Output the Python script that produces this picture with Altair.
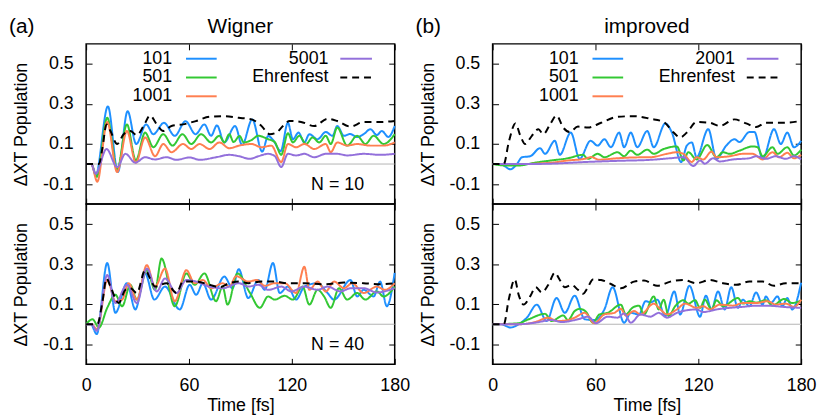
import altair as alt
import pandas as pd

# ---------------- data ----------------
# (a) Wigner, N = 10
A10_101_T = [0, 3, 5.6, 12.7, 18.5, 24.2, 29.2, 35, 39.2, 45.4, 51.7, 58, 63.8, 69, 72.9, 76.3, 80.6, 86.9, 91, 96.9, 102.7, 106.2, 109, 113.5, 117.7, 120.6, 123.9, 127.3, 130.2, 135, 139.8, 143.7, 146.5, 150.4, 154, 158, 162, 165.8, 169.6, 172.5, 176.3, 180]
A10_101_V = [0, 0, -0.055, 0.288, -0.04, 0.264, 0.1, 0.198, 0.149, 0.206, 0.141, 0.214, 0.149, 0.198, 0.141, 0.193, 0.108, 0.19, 0.095, 0.223, 0.062, 0.14, 0.12, 0.065, 0.206, 0.124, 0.157, 0.108, 0.149, 0.124, 0.16, 0.141, 0.19, 0.141, 0.15, 0.135, 0.15, 0.174, 0.145, 0.165, 0.135, 0.19]
A10_501_T = [0, 3, 6.2, 12.3, 18.1, 23.8, 29, 34.4, 39.2, 45, 50.4, 56.2, 61.3, 67.1, 72.9, 77.7, 80.6, 83.5, 86, 89.5, 92, 96.5, 100.4, 106.2, 110, 113.8, 117.7, 120.6, 124.4, 128.3, 132.1, 136, 139.8, 142.7, 146.5, 152.3, 158.1, 162.9, 167.7, 173.5, 180]
A10_501_V = [0, 0, -0.064, 0.231, -0.026, 0.198, 0.018, 0.157, 0.084, 0.149, 0.092, 0.149, 0.1, 0.149, 0.108, 0.141, 0.108, 0.149, 0.11, 0.14, 0.108, 0.12, 0.141, 0.124, 0.11, 0.046, 0.154, 0.108, 0.141, 0.1, 0.133, 0.108, 0.141, 0.1, 0.182, 0.092, 0.141, 0.1, 0.141, 0.1, 0.149]
A10_1001_T = [0, 3, 6.5, 12.3, 18.1, 23.8, 29, 34.4, 40.2, 45, 49.8, 56.5, 61.3, 66.2, 72, 77.7, 83.5, 89.2, 96.5, 102.3, 108, 113.8, 117.7, 122.5, 127.3, 133.1, 139.8, 142.7, 146.5, 152.3, 158.1, 165.8, 173.5, 180]
A10_1001_V = [0, 0, -0.088, 0.21, -0.04, 0.165, 0.007, 0.133, 0.039, 0.1, 0.059, 0.1, 0.075, 0.1, 0.075, 0.108, 0.079, 0.092, 0.1, 0.084, 0.092, 0.01, 0.1, 0.084, 0.1, 0.075, 0.1, 0.059, 0.108, 0.092, 0.1, 0.092, 0.092, 0.108]
A10_5001_T = [0, 3, 5.6, 11.9, 18.1, 22.9, 28.7, 34.4, 40.2, 46.9, 52.7, 60.4, 66.2, 75.8, 83.5, 89.2, 95.6, 100.4, 106.2, 110, 113.8, 117.7, 122.5, 127.3, 133.1, 139.8, 146.5, 152.3, 162, 171.5, 180]
A10_5001_V = [0, 0, -0.048, 0.075, -0.015, 0.051, 0.007, 0.034, 0.023, 0.034, 0.021, 0.033, 0.021, 0.034, 0.046, 0.039, 0.026, 0.039, 0.051, 0.04, -0.015, 0.051, 0.043, 0.051, 0.034, 0.051, 0.051, 0.043, 0.051, 0.046, 0.051]
A10_EHR_T = [0, 7.5, 9.4, 11.9, 14.2, 18.1, 21.9, 25.8, 29.6, 33.5, 37.3, 41.2, 45, 49.8, 56.5, 64.2, 71.9, 79.6, 89, 96.5, 102.3, 107.1, 111, 114.8, 118.7, 125.4, 133.1, 140.8, 146.5, 154.2, 161.9, 171.5, 180]
A10_EHR_V = [0, 0, 0.075, 0.198, 0.165, 0.1, 0.149, 0.165, 0.144, 0.19, 0.242, 0.198, 0.165, 0.19, 0.198, 0.215, 0.236, 0.239, 0.231, 0.223, 0.19, 0.149, 0.157, 0.19, 0.215, 0.21, 0.19, 0.226, 0.215, 0.187, 0.21, 0.21, 0.215]

# (a) Wigner, N = 40
A40_101_T = [0, 2.7, 6.2, 12.3, 17.1, 23.8, 28.7, 34.4, 39.8, 46, 54.6, 60.4, 64.2, 68.1, 72.9, 80.6, 85.4, 89, 94.6, 100.4, 104.2, 109, 112.9, 117.7, 122.5, 127.3, 135, 140.8, 144.6, 154.2, 158.1, 161.9, 167.7, 171.5, 175.4, 180]
A40_101_V = [0, 0, -0.049, 0.306, 0.057, 0.205, 0.074, 0.254, 0.123, 0.188, 0.074, 0.197, 0.147, 0.205, 0.123, 0.238, 0.18, 0.275, 0.131, 0.221, 0.172, 0.306, 0.156, 0.188, 0.123, 0.188, 0.205, 0.156, 0.123, 0.221, 0.139, 0.172, 0.139, 0.213, 0.09, 0.257]
A40_501_T = [0, 3.7, 7.5, 12.3, 17.1, 21, 25.8, 29.6, 35.4, 40.2, 44, 51.7, 58.5, 63.3, 69, 75.8, 79.6, 82.5, 88.3, 95.6, 101.3, 106.2, 110, 115.8, 120.6, 126.3, 130.2, 135, 138.8, 142.7, 147.5, 152.3, 158.1, 162.9, 169.6, 173.5, 180]
A40_501_V = [0, 0.025, -0.016, 0.082, 0.147, 0.09, 0.197, 0.123, 0.27, 0.172, 0.328, 0.09, 0.254, 0.197, 0.254, 0.115, 0.188, 0.098, 0.254, 0.156, 0.082, 0.139, 0.123, 0.142, 0.123, 0.188, 0.098, 0.172, 0.139, 0.082, 0.18, 0.123, 0.156, 0.123, 0.164, 0.139, 0.188]
A40_1001_T = [0, 3, 6.5, 12.3, 17.1, 21, 24.8, 29.6, 35.4, 40.2, 46, 51.7, 58.5, 63.3, 68.1, 72.9, 79.6, 83.5, 87.5, 94.6, 99.4, 104.2, 110, 115.8, 122.5, 127.3, 130.2, 135, 139.8, 144.6, 150.4, 155.2, 161.9, 169.6, 174.4, 180]
A40_1001_V = [0, 0, -0.025, 0.221, 0.115, 0.123, 0.205, 0.123, 0.295, 0.188, 0.278, 0.115, 0.27, 0.205, 0.221, 0.18, 0.205, 0.188, 0.24, 0.213, 0.221, 0.192, 0.205, 0.205, 0.156, 0.287, 0.172, 0.213, 0.164, 0.213, 0.18, 0.205, 0.156, 0.188, 0.172, 0.205]
A40_5001_T = [0, 3, 6.2, 12.3, 17.1, 23.8, 29.6, 35.4, 41.2, 46, 52.7, 58.5, 64.2, 71.9, 79.6, 89.2, 94.6, 100.4, 106.2, 113.9, 119.6, 127.3, 135, 140.8, 148.5, 154.2, 161.9, 169.6, 180]
A40_5001_V = [0, 0, -0.033, 0.246, 0.106, 0.197, 0.106, 0.278, 0.164, 0.229, 0.156, 0.221, 0.213, 0.188, 0.18, 0.205, 0.188, 0.197, 0.172, 0.188, 0.164, 0.188, 0.172, 0.188, 0.164, 0.18, 0.18, 0.159, 0.18]
A40_EHR_T = [0, 6.5, 9.4, 11.9, 14.2, 19, 22.9, 25.8, 29.6, 34.4, 37.3, 40.2, 46.9, 52.7, 56.5, 64.2, 71.9, 77.7, 83.5, 89.2, 94.6, 102.3, 110, 117.7, 127.3, 138.8, 150.4, 161.9, 171.5, 180]
A40_EHR_V = [0, 0, 0.106, 0.229, 0.188, 0.106, 0.172, 0.18, 0.156, 0.27, 0.229, 0.188, 0.205, 0.156, 0.213, 0.213, 0.197, 0.185, 0.205, 0.213, 0.205, 0.213, 0.213, 0.205, 0.205, 0.2, 0.208, 0.205, 0.2, 0.205]

# (b) improved, N = 10
B10_101_T = [0, 4.6, 10.4, 14.2, 17.1, 21.9, 27.7, 30.6, 36.3, 39.2, 45.6, 50.8, 57.1, 61.3, 65.2, 69, 73.8, 76.7, 80.6, 84.4, 90.2, 94, 100.8, 104.6, 110, 113.3, 116.2, 119, 125.8, 130.6, 136.3, 141.1, 144, 149.8, 152.7, 157.5, 164.2, 168.1, 171.9, 175.8, 180]
B10_101_V = [0, 0, -0.026, 0, 0.034, 0.039, 0.079, 0.051, 0.116, 0.046, 0.157, 0.026, 0.116, 0.092, 0.124, 0.084, 0.157, 0.084, 0.157, 0.084, 0.165, 0.084, 0.203, 0.157, 0.01, 0.092, 0.108, 0.034, 0.174, 0.026, 0.092, 0.124, 0.11, 0.16, 0.16, 0.026, 0.174, 0.1, 0.157, 0.084, 0.116]
B10_501_T = [0, 7.5, 15.2, 24.8, 34.4, 44, 52.7, 55.6, 61.3, 65.2, 72.9, 76.7, 80.6, 84.4, 90.2, 94, 99.8, 107.5, 111.3, 114.2, 119, 125.2, 130.6, 134.4, 138.3, 144, 151.7, 154.6, 157.5, 163.3, 166.2, 171.9, 175.8, 180]
B10_501_V = [0, -0.007, -0.007, 0.007, 0.018, 0.029, 0.046, 0.026, 0.051, 0.034, 0.059, 0.039, 0.067, 0.046, 0.072, 0.051, 0.075, 0.088, 0.018, 0.059, 0.023, 0.095, 0.034, 0.059, 0.051, 0.067, 0.088, 0.084, 0.039, 0.084, 0.051, 0.084, 0.043, 0.072]
B10_1001_T = [0, 15, 34.4, 44, 53.7, 57.5, 62, 72.9, 82.5, 92.1, 101.7, 107.5, 111.3, 116.2, 119, 122.9, 127.7, 130.6, 138.3, 146, 151.7, 157.5, 163.3, 167.1, 171.9, 175.8, 180]
B10_1001_V = [0, 0, 0.007, 0.018, 0.026, 0.035, 0.022, 0.029, 0.033, 0.034, 0.051, 0.059, 0.051, 0.01, 0.034, 0.023, 0.062, 0.034, 0.039, 0.051, 0.051, 0.023, 0.059, 0.034, 0.056, 0.029, 0.046]
B10_2001_T = [0, 20, 34.4, 53.7, 72.9, 92.1, 103.7, 111.3, 117.1, 121, 123.8, 128.6, 132.5, 140.2, 149.8, 153.7, 159.4, 165.2, 171, 175.8, 180]
B10_2001_V = [0, 0, 0.002, 0.01, 0.016, 0.021, 0.029, 0.034, -0.01, 0.018, 0.002, 0.029, 0.013, 0.023, 0.029, 0.039, 0.026, 0.039, 0.026, 0.039, 0.023]
B10_EHR_T = [0, 6.5, 9.4, 13.3, 16.2, 19, 22.9, 26.7, 29.6, 33.5, 37.3, 41.2, 45, 49.8, 55.6, 63.3, 72.9, 82.5, 92.1, 99.8, 105.6, 109.4, 113.3, 119, 126.7, 132.5, 141.1, 147.9, 153.7, 159.4, 169, 180]
B10_EHR_V = [0, 0, 0.108, 0.203, 0.141, 0.1, 0.141, 0.174, 0.149, 0.198, 0.242, 0.182, 0.16, 0.187, 0.182, 0.206, 0.236, 0.239, 0.226, 0.21, 0.157, 0.133, 0.157, 0.21, 0.206, 0.19, 0.223, 0.203, 0.185, 0.206, 0.206, 0.215]

# (b) improved, N = 40
B40_101_T = [0, 5, 10.4, 15.2, 20, 25.8, 31.5, 37.3, 42.1, 47.9, 53.7, 59.4, 65.2, 70, 76.7, 80.6, 85.4, 89.2, 92.1, 96, 100.8, 106, 109.4, 114.8, 121, 124.4, 127.7, 131.5, 135.4, 139.2, 143.1, 146, 149.8, 153.7, 157.5, 159.4, 162.3, 166.2, 169, 171.9, 174.8, 180]
B40_101_V = [0, 0, -0.016, 0, 0.033, 0.098, 0.016, 0.131, 0.057, 0.143, 0.025, 0.021, 0.074, 0.185, 0.008, 0.057, 0.049, 0.115, 0.11, 0.123, 0.041, 0.164, 0.049, 0.192, 0.038, 0.143, 0.074, 0.164, 0.074, 0.185, 0.082, 0.123, 0.09, 0.159, 0.098, 0.139, 0.106, 0.139, 0.09, 0.131, 0.074, 0.208]
B40_501_T = [0, 15, 21, 30.6, 34.4, 41.2, 44, 47.9, 50.8, 54.6, 58.5, 62.3, 67.1, 74.8, 77.7, 81.5, 85.4, 88.3, 94, 96.9, 99.8, 102.7, 106.5, 111.3, 114.2, 118.1, 121, 123.8, 127.7, 130.6, 134.4, 143.1, 146, 149.8, 153.7, 159.4, 163.3, 170, 174.8, 180]
B40_501_V = [0, 0.005, 0.025, 0.052, 0.016, 0.044, 0.021, 0.066, 0.077, 0.061, 0.008, 0.049, 0.057, 0.098, 0.049, 0.082, 0.093, 0.049, 0.139, 0.074, 0.123, 0.041, 0.09, 0.12, 0.103, 0.12, 0.082, 0.123, 0.074, 0.12, 0.09, 0.131, 0.103, 0.115, 0.108, 0.12, 0.093, 0.126, 0.106, 0.12]
B40_1001_T = [0, 15, 24.8, 32.5, 37.3, 44, 47.9, 53.7, 59.4, 65.2, 71, 74.8, 77.7, 82.5, 86.3, 94, 97.9, 101.7, 107.5, 112.3, 119, 122.9, 126.7, 132.5, 140.2, 146, 153.7, 160.4, 165.2, 171, 175.8, 180]
B40_1001_V = [0, 0, 0.011, 0.033, 0.016, 0.021, 0.033, 0.057, 0.005, 0.049, 0.057, 0.077, 0.044, 0.066, 0.049, 0.103, 0.074, 0.049, 0.074, 0.103, 0.082, 0.09, 0.074, 0.098, 0.093, 0.106, 0.106, 0.115, 0.098, 0.103, 0.087, 0.123]
B40_2001_T = [0, 15, 24.8, 34.4, 40.2, 49.8, 55.6, 60.4, 67.1, 72.9, 76.7, 80.6, 86.3, 92.1, 96.9, 101.7, 107.5, 113.3, 119, 122.9, 130.6, 138.3, 146, 153.7, 161.3, 169, 180]
B40_2001_V = [0, 0, 0.008, 0.021, 0.011, 0.025, 0.038, 0.005, 0.038, 0.033, 0.054, 0.008, 0.049, 0.038, 0.057, 0.033, 0.057, 0.07, 0.074, 0.061, 0.074, 0.082, 0.087, 0.093, 0.093, 0.087, 0.082]
B40_EHR_T = [0, 6.5, 9.4, 12.9, 15.2, 18.1, 21.9, 25.2, 28.7, 32.5, 36.3, 39.2, 42.1, 46, 49.8, 52.7, 55.6, 58.5, 63.3, 69, 74.8, 82.5, 88.3, 96, 103.7, 111.3, 119, 126.7, 134.4, 142.1, 149.8, 157.5, 164.2, 171, 180]
B40_EHR_V = [0, 0, 0.123, 0.224, 0.147, 0.098, 0.139, 0.185, 0.159, 0.197, 0.257, 0.221, 0.185, 0.197, 0.172, 0.152, 0.185, 0.224, 0.221, 0.201, 0.18, 0.213, 0.218, 0.192, 0.213, 0.221, 0.205, 0.221, 0.205, 0.197, 0.213, 0.213, 0.192, 0.205, 0.205]

SERIES_NAMES = ["101", "501", "1001", "5001", "2001", "Ehrenfest"]
SERIES_COLORS = ["#1e90ff", "#33c833", "#ff7f50", "#9370db", "#9370db", "#000000"]
SERIES_DASH = [[1, 0], [1, 0], [1, 0], [1, 0], [1, 0], [7, 5]]

X_TICKS = [0, 60, 120, 180]
Y_TICKS = [-0.1, 0.1, 0.3, 0.5]

# ---------------- helpers ----------------
W, H = 312, 162
FONT = "Liberation Sans"
one = pd.DataFrame({"k": [0]})
xs = alt.Scale(domain=[0, 180], nice=False, zero=False)
ys = alt.Scale(domain=[-0.2, 0.6], nice=False, zero=False)
LABEL_EXPR = "datum.value < 0 ? '-' + format(-datum.value, '.1f') : format(datum.value, '.1f')"


def build_df(series):
    rows = []
    for name, ts, vs in series:
        for t, v in zip(ts, vs):
            rows.append({"t": t, "v": v, "series": name})
    return pd.DataFrame(rows)


def text(txt, x, y, align="right", size=18, baseline="middle"):
    return alt.Chart(one).mark_text(
        text=txt, align=align, baseline=baseline, fontSize=size, color="black", font=FONT
    ).encode(x=alt.value(x), y=alt.value(y))


def sample(x1, x2, y, color, dash=None):
    kw = dict(color=color, strokeWidth=2)
    if dash:
        kw["strokeDash"] = dash
    return alt.Chart(one).mark_rule(**kw).encode(x=alt.value(x1), x2=alt.value(x2), y=alt.value(y))


def panel(series, bottom, legend_names, letter=None, title=None, ntext=None):
    df = build_df(series)
    xaxis = alt.Axis(
        values=X_TICKS, orient="bottom", offset=-6, tickSize=6, labels=bottom,
        labelPadding=12, format="d", title="Time [fs]" if bottom else None, titlePadding=3,
    )
    yaxis = alt.Axis(
        values=Y_TICKS, orient="left", offset=-6, tickSize=6, labelPadding=13,
        labelExpr=LABEL_EXPR, title="ΔXT Population", titlePadding=12,
    )
    top_axis = alt.Axis(values=X_TICKS, orient="top", offset=-6, tickSize=6, labels=False, title=None)
    right_axis = alt.Axis(values=Y_TICKS, orient="right", offset=-6, tickSize=6, labels=False, title=None)

    zero = alt.Chart(one).mark_rule(color="#b4b4b4", strokeWidth=1).encode(
        x=alt.XDatum(0, scale=xs, axis=top_axis),
        x2=alt.X2Datum(180),
        y=alt.YDatum(0, scale=ys, axis=right_axis),
    )
    lines = alt.Chart(df).mark_line(strokeWidth=2, interpolate="monotone").encode(
        x=alt.X("t:Q", scale=xs, axis=xaxis),
        y=alt.Y("v:Q", scale=ys, axis=yaxis),
        color=alt.Color("series:N", scale=alt.Scale(domain=SERIES_NAMES, range=SERIES_COLORS), legend=None),
        strokeDash=alt.StrokeDash("series:N", scale=alt.Scale(domain=SERIES_NAMES, range=SERIES_DASH), legend=None),
    )
    layers = [zero, lines]
    if legend_names:
        rows_y = [15, 34, 53]
        for i, name in enumerate(legend_names[:3]):
            c = SERIES_COLORS[SERIES_NAMES.index(name)]
            layers.append(text(name, 87, rows_y[i]))
            layers.append(sample(101, 132, rows_y[i], c))
        for i, name in enumerate(legend_names[3:]):
            c = SERIES_COLORS[SERIES_NAMES.index(name)]
            d = SERIES_DASH[SERIES_NAMES.index(name)]
            layers.append(text(name, 245, rows_y[i]))
            layers.append(sample(257, 289, rows_y[i], c, d if d != [1, 0] else None))
    if letter:
        layers.append(text(letter, -78, -10.5, align="left", size=21, baseline="alphabetic"))
    if title:
        layers.append(text(title, W / 2, -10.5, align="center", size=21, baseline="alphabetic"))
    if ntext:
        layers.append(text(ntext, 281, 143))
    return alt.layer(*layers).resolve_axis(x="independent", y="independent").properties(width=W, height=H)


tl = panel(
    [("101", A10_101_T, A10_101_V), ("501", A10_501_T, A10_501_V), ("1001", A10_1001_T, A10_1001_V),
     ("5001", A10_5001_T, A10_5001_V), ("Ehrenfest", A10_EHR_T, A10_EHR_V)],
    False, ["101", "501", "1001", "5001", "Ehrenfest"], "(a)", "Wigner", "N = 10")
bl = panel(
    [("101", A40_101_T, A40_101_V), ("501", A40_501_T, A40_501_V), ("1001", A40_1001_T, A40_1001_V),
     ("5001", A40_5001_T, A40_5001_V), ("Ehrenfest", A40_EHR_T, A40_EHR_V)],
    True, None, None, None, "N = 40")
tr = panel(
    [("101", B10_101_T, B10_101_V), ("501", B10_501_T, B10_501_V), ("1001", B10_1001_T, B10_1001_V),
     ("2001", B10_2001_T, B10_2001_V), ("Ehrenfest", B10_EHR_T, B10_EHR_V)],
    False, ["101", "501", "1001", "2001", "Ehrenfest"], "(b)", "improved", None)
br = panel(
    [("101", B40_101_T, B40_101_V), ("501", B40_501_T, B40_501_V), ("1001", B40_1001_T, B40_1001_V),
     ("2001", B40_2001_T, B40_2001_V), ("Ehrenfest", B40_EHR_T, B40_EHR_V)],
    True, None, None, None, None)

chart = alt.concat(
    tl, tr, bl, br, columns=2, spacing=alt.RowColnumber(row=0, column=99), bounds="flush"
).properties(
    padding={"left": 0, "top": 5, "right": 0, "bottom": 0}
).configure_view(
    stroke="black", strokeWidth=1.5
).configure_axis(
    labelFont=FONT, labelFontSize=18, titleFont=FONT, titleFontSize=18, titleFontWeight="normal",
    labelColor="black", titleColor="black", tickColor="black", tickWidth=1,
    grid=False, domain=False, labelFlush=False, labelOverlap=False, labelBound=False,
)

chart.save("out.html", embed_options={"renderer": "svg", "actions": False})
